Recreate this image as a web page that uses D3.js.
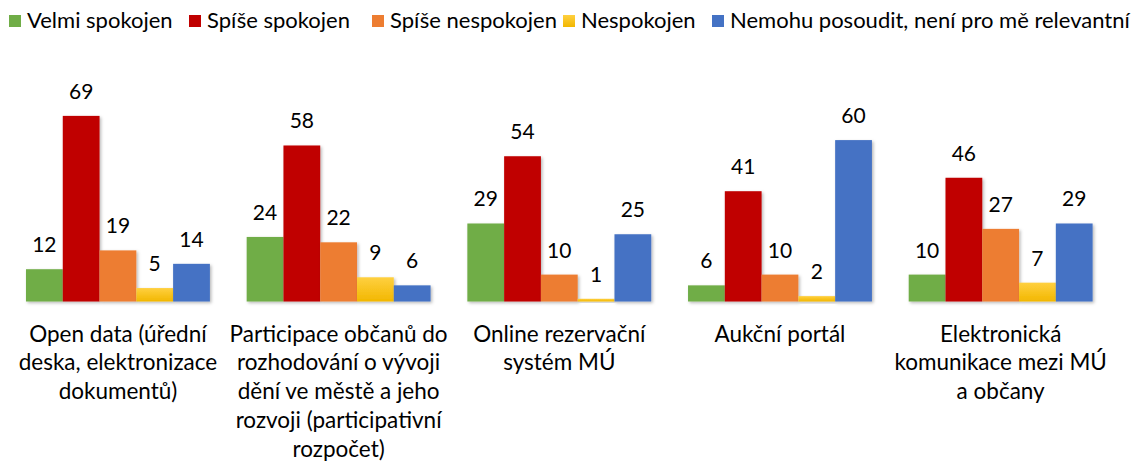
<!DOCTYPE html>
<html>
<head>
<meta charset="utf-8">
<script src="https://cdn.jsdelivr.net/npm/d3@7"></script>
<style>
  html, body { margin: 0; padding: 0; background: #fff; }
  svg { display: block; }
  text { font-family: Lato, "Open Sans", sans-serif; fill: #000; }
</style>
</head>
<body>
<svg id="chart" width="1143" height="462"></svg>
<script>
// ---- data ----
const categories = [
  "Open data (úřední\ndeska, elektronizace\ndokumentů)",
  "Participace občanů do\nrozhodování o vývoji\ndění ve městě a jeho\nrozvoji (participativní\nrozpočet)",
  "Online rezervační\nsystém MÚ",
  "Aukční portál",
  "Elektronická\nkomunikace mezi MÚ\na občany"
];
const seriesNames = ["Velmi spokojen", "Spíše spokojen", "Spíše nespokojen", "Nespokojen", "Nemohu posoudit, není pro mě relevantní"];
const velmiSpokojen    = [12, 24, 29, 6, 10];
const spiseSpokojen    = [69, 58, 54, 41, 46];
const spiseNespokojen  = [19, 22, 10, 10, 27];
const nespokojen       = [5, 9, 1, 2, 7];
const nemohuPosoudit   = [14, 6, 25, 60, 29];
const seriesValues = [velmiSpokojen, spiseSpokojen, spiseNespokojen, nespokojen, nemohuPosoudit];
const colors = ["#70ad47", "#c00000", "#ed7d31", "url(#yellowGrad)", "#4472c4"];

// ---- layout ----
const svg = d3.select("#chart");
const plot = { left: 7.6, right: 1111, baseline: 301.5, top: 86.3 };

const defs = svg.append("defs");
const grad = defs.append("linearGradient").attr("id", "yellowGrad")
  .attr("x1", 0).attr("y1", 0).attr("x2", 0).attr("y2", 1);
grad.append("stop").attr("offset", "0%").attr("stop-color", "#ffd040");
grad.append("stop").attr("offset", "100%").attr("stop-color", "#f2b700");
const shadow = defs.append("filter").attr("id", "shadow")
  .attr("x", "-20%").attr("y", "-20%").attr("width", "150%").attr("height", "150%");
shadow.append("feDropShadow").attr("dx", 1.5).attr("dy", 1.5).attr("stdDeviation", 1.5)
  .attr("flood-color", "#000").attr("flood-opacity", 0.28);

const x0 = d3.scaleBand().domain(d3.range(categories.length)).range([plot.left, plot.right])
  .paddingInner(0).paddingOuter(0);
const x1 = d3.scaleBand().domain(d3.range(seriesNames.length)).range([0, x0.bandwidth()])
  .paddingInner(0).paddingOuter(0.5);
const y = d3.scaleLinear().domain([0, 80]).range([plot.baseline, plot.top]);

// axis line
svg.append("line")
  .attr("x1", plot.left).attr("x2", plot.right)
  .attr("y1", plot.baseline + 0.5).attr("y2", plot.baseline + 0.5)
  .attr("stroke", "#d9d9d9").attr("stroke-width", 1.5)
  .attr("filter", "url(#shadow)");

// bars
const groups = svg.append("g").selectAll("g")
  .data(categories.map((c, i) => i))
  .join("g")
  .attr("transform", i => `translate(${x0(i)},0)`);

groups.selectAll("rect")
  .data(i => seriesValues.map((vals, s) => ({ s, v: vals[i] })))
  .join("rect")
  .attr("x", d => x1(d.s))
  .attr("width", x1.bandwidth())
  .attr("y", d => y(d.v))
  .attr("height", d => y(0) - y(d.v))
  .attr("fill", d => colors[d.s])
  .attr("filter", "url(#shadow)");

groups.selectAll("text.val")
  .data(i => seriesValues.map((vals, s) => ({ s, v: vals[i] })))
  .join("text")
  .attr("class", "val")
  .attr("x", d => x1(d.s) + x1.bandwidth() / 2)
  .attr("y", d => y(d.v) - 17)
  .attr("text-anchor", "middle")
  .style("font-size", "21px")
  .text(d => d.v);

// category labels
const catG = svg.append("g");
categories.forEach((c, i) => {
  const cx = x0(i) + x0.bandwidth() / 2;
  const t = catG.append("text")
    .attr("text-anchor", "middle")
    .attr("x", cx)
    .attr("y", 341.7)
    .style("font-size", "22.5px");
  c.split("\n").forEach((line, k) => {
    t.append("tspan")
      .attr("x", cx)
      .attr("dy", k === 0 ? 0 : 28.7)
      .text(line);
  });
});

// legend
const legendX = [9, 189, 372, 563, 712];
const legend = svg.append("g");
seriesNames.forEach((name, s) => {
  legend.append("rect")
    .attr("x", legendX[s]).attr("y", 15).attr("width", 12).attr("height", 12)
    .attr("fill", colors[s]);
  legend.append("text")
    .attr("x", legendX[s] + 18).attr("y", 27.5)
    .style("font-size", "22px")
    .text(name);
});
</script>
</body>
</html>
